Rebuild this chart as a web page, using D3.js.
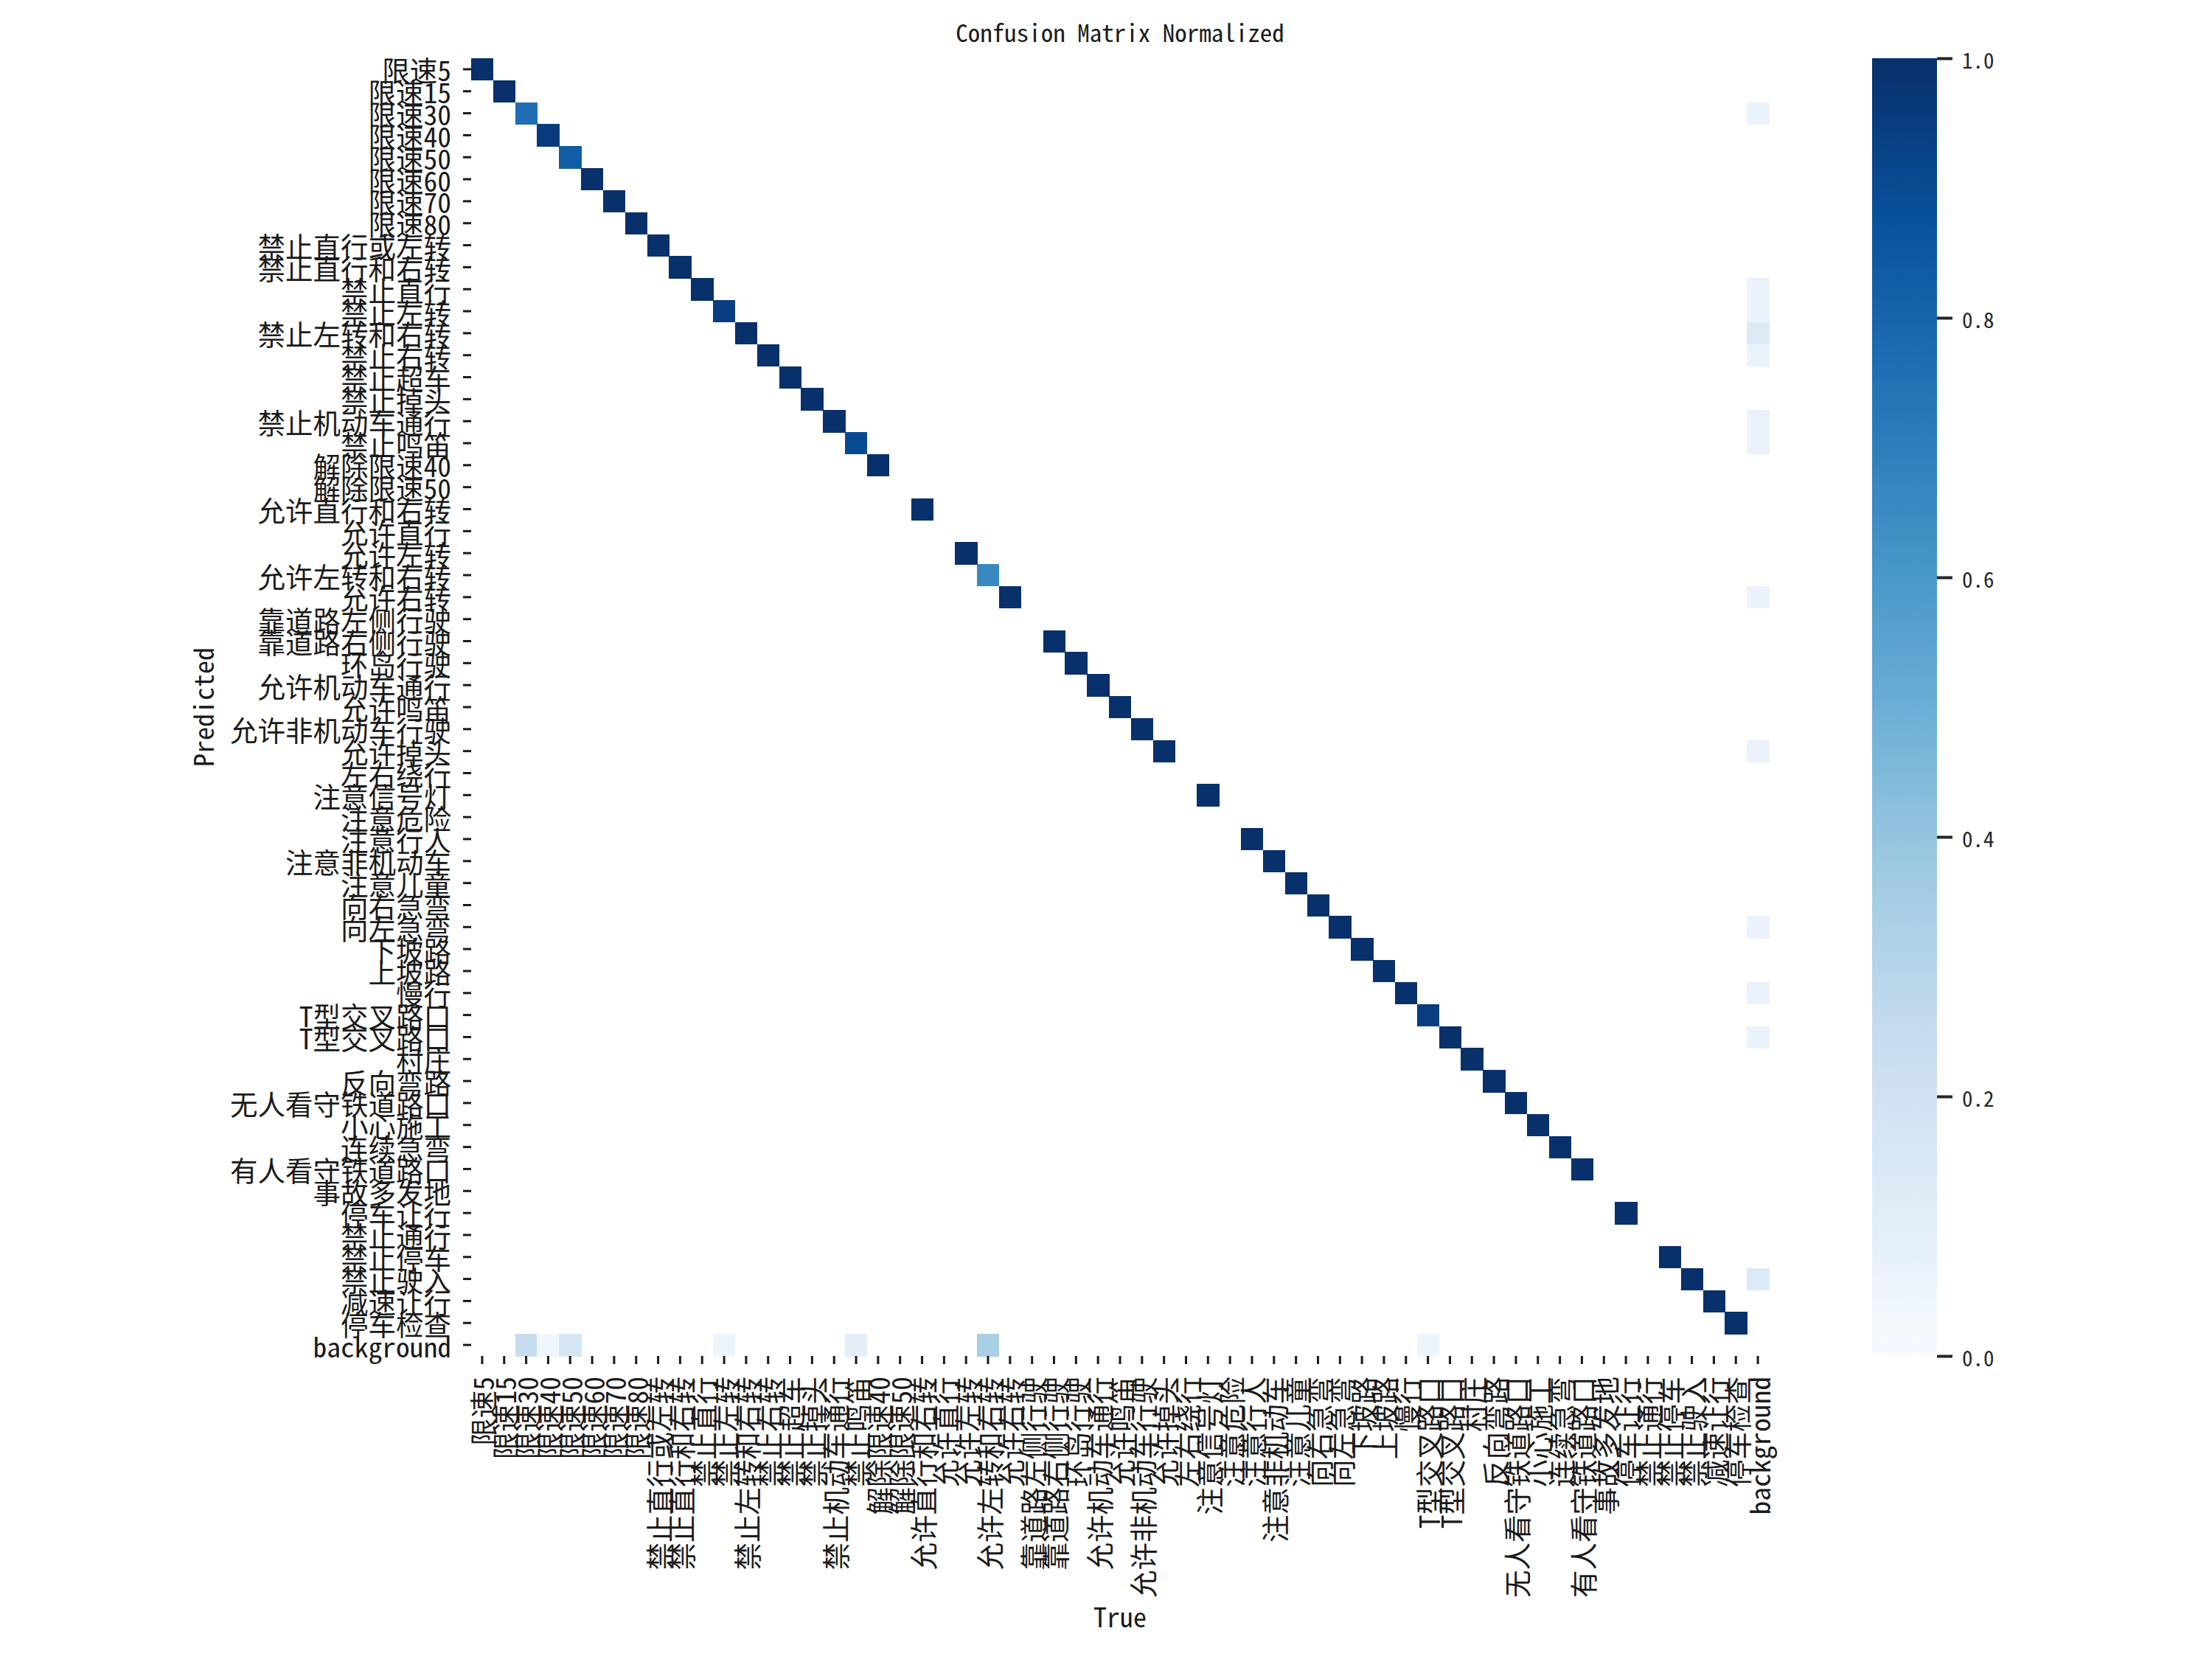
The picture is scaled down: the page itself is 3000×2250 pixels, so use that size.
<!DOCTYPE html>
<html>
<head>
<meta charset="utf-8">
<script src="https://cdnjs.cloudflare.com/ajax/libs/d3/7.8.5/d3.min.js"></script>
<style>
  html, body { margin: 0; padding: 0; background: #ffffff; }
  svg { display: block; }
</style>
</head>
<body>
<svg id="chart" width="3000" height="2250"></svg>
<script>
// ---------------- data ----------------
const classNames = [
  "限速5","限速15","限速30","限速40","限速50","限速60","限速70","限速80",
  "禁止直行或左转","禁止直行和右转","禁止直行","禁止左转","禁止左转和右转","禁止右转",
  "禁止超车","禁止掉头","禁止机动车通行","禁止鸣笛","解除限速40","解除限速50",
  "允许直行和右转","允许直行","允许左转","允许左转和右转","允许右转",
  "靠道路左侧行驶","靠道路右侧行驶","环岛行驶","允许机动车通行","允许鸣笛",
  "允许非机动车行驶","允许掉头","左右绕行","注意信号灯","注意危险","注意行人",
  "注意非机动车","注意儿童","向右急弯","向左急弯","下坡路","上坡路","慢行",
  "T型交叉路口","T型交叉路口","村庄","反向弯路","无人看守铁道路口","小心施工",
  "连续急弯","有人看守铁道路口","事故多发地","停车让行","禁止通行","禁止停车",
  "禁止驶入","减速让行","停车检查","background"
];

// diagonal (predicted == true) values for the 58 classes
const diagValues = [
  1.00, 1.00, 0.76, 0.96, 0.83, 1.00, 1.00, 1.00,
  1.00, 1.00, 1.00, 0.95, 1.00, 1.00,
  1.00, 1.00, 1.00, 0.90, 1.00, 0.00,
  1.00, 0.00, 1.00, 0.66, 1.00,
  0.00, 1.00, 1.00, 1.00, 1.00,
  1.00, 1.00, 0.00, 1.00, 0.00, 1.00,
  1.00, 1.00, 1.00, 1.00, 1.00, 1.00, 1.00,
  0.95, 1.00, 1.00, 1.00, 1.00, 1.00,
  1.00, 1.00, 0.00, 1.00, 0.00, 1.00,
  1.00, 1.00, 1.00
];

// last row: predicted "background" for each true class (missed objects)
const backgroundRow = [
  0, 0, 0.24, 0.04, 0.17, 0, 0, 0,
  0, 0, 0, 0.05, 0, 0,
  0, 0, 0, 0.10, 0, 0,
  0, 0, 0, 0.34, 0,
  0, 0, 0, 0, 0,
  0, 0, 0, 0, 0, 0,
  0, 0, 0, 0, 0, 0, 0,
  0.05, 0, 0, 0, 0, 0,
  0, 0, 0, 0, 0, 0,
  0, 0, 0, 0
];

// last column: true "background" for each predicted class (false positives)
const backgroundCol = [
  0, 0, 0.067, 0, 0, 0, 0, 0,
  0, 0, 0.067, 0.067, 0.133, 0.067,
  0, 0, 0.067, 0.067, 0, 0,
  0, 0, 0, 0, 0.067,
  0, 0, 0, 0, 0,
  0, 0.067, 0, 0, 0, 0,
  0, 0, 0, 0.067, 0, 0, 0.067,
  0, 0.067, 0, 0, 0, 0,
  0, 0, 0, 0, 0, 0,
  0.133, 0, 0, 0
];

const colorbarTicks = [0.0, 0.2, 0.4, 0.6, 0.8, 1.0];
const titleText = "Confusion Matrix Normalized";
const xLabelText = "True";
const yLabelText = "Predicted";

// ---------------- build cells ----------------
const nCls = classNames.length;
const cells = [];
diagValues.forEach((v, i) => { if (v >= 0.005) cells.push({ row: i, col: i, v }); });
backgroundRow.forEach((v, j) => { if (v >= 0.005) cells.push({ row: nCls - 1, col: j, v }); });
backgroundCol.forEach((v, i) => { if (v >= 0.005) cells.push({ row: i, col: nCls - 1, v }); });

// ---------------- layout ----------------
const FONT = '"Noto Sans Mono CJK SC", "Noto Sans CJK SC", "DejaVu Sans Mono", monospace';
const TEXT = "#1a1a1a";
const plotLeft = 639, plotTop = 79, plotSize = 1760;

const svg = d3.select("#chart");

const x = d3.scaleBand().domain(d3.range(nCls)).range([plotLeft, plotLeft + plotSize]);
const y = d3.scaleBand().domain(d3.range(nCls)).range([plotTop, plotTop + plotSize]);

// matplotlib "Blues" colormap (linear segments through the 9 ColorBrewer stops)
const bluesStops = ["#f7fbff","#deebf7","#c6dbef","#9ecae1","#6baed6","#4292c6","#2171b5","#08519c","#08306b"];
const color = d3.scaleLinear()
  .domain(bluesStops.map((_, i) => i / (bluesStops.length - 1)))
  .range(bluesStops)
  .interpolate(d3.interpolateRgb)
  .clamp(true);

// heatmap cells
svg.append("g")
  .selectAll("rect")
  .data(cells)
  .join("rect")
  .attr("x", d => x(d.col))
  .attr("y", d => y(d.row))
  .attr("width", x.bandwidth() + 0.5)
  .attr("height", y.bandwidth() + 0.5)
  .attr("fill", d => color(d.v))
  .attr("shape-rendering", "crispEdges");

// y axis
const yAxis = svg.append("g")
  .attr("transform", `translate(${plotLeft},0)`)
  .call(d3.axisLeft(y).tickSize(11).tickPadding(16).tickFormat(i => classNames[i]));
yAxis.select(".domain").remove();
yAxis.selectAll(".tick line").attr("stroke", TEXT).attr("stroke-width", 3);
yAxis.selectAll(".tick text")
  .attr("fill", TEXT)
  .attr("font-family", FONT)
  .attr("font-size", 37.5)
  .attr("dy", null)
  .attr("dominant-baseline", "central");

// x axis
const xAxis = svg.append("g")
  .attr("transform", `translate(0,${plotTop + plotSize})`)
  .call(d3.axisBottom(x).tickSize(11).tickPadding(17).tickFormat(i => classNames[i]));
xAxis.select(".domain").remove();
xAxis.selectAll(".tick line").attr("stroke", TEXT).attr("stroke-width", 3);
xAxis.selectAll(".tick text")
  .attr("fill", TEXT)
  .attr("font-family", FONT)
  .attr("font-size", 37.5)
  .attr("transform", "rotate(-90)")
  .attr("text-anchor", "end")
  .attr("x", -28)
  .attr("y", 0)
  .attr("dy", null)
  .attr("dominant-baseline", "central");

// title and axis labels
svg.append("text")
  .attr("x", plotLeft + plotSize / 2).attr("y", 57)
  .attr("text-anchor", "middle")
  .attr("font-family", FONT).attr("font-size", 33)
  .attr("fill", TEXT)
  .text(titleText);

svg.append("text")
  .attr("x", plotLeft + plotSize / 2).attr("y", 2207)
  .attr("text-anchor", "middle")
  .attr("font-family", FONT).attr("font-size", 36)
  .attr("fill", TEXT)
  .text(xLabelText);

svg.append("text")
  .attr("transform", `translate(290,${plotTop + plotSize / 2}) rotate(-90)`)
  .attr("text-anchor", "middle")
  .attr("font-family", FONT).attr("font-size", 36)
  .attr("fill", TEXT)
  .text(yLabelText);

// colorbar
const cbX = 2539, cbW = 88;
const cb = d3.scaleLinear().domain([0, 1]).range([plotTop + plotSize, plotTop]);
const defs = svg.append("defs");
const grad = defs.append("linearGradient")
  .attr("id", "bluesGrad")
  .attr("x1", 0).attr("y1", 1).attr("x2", 0).attr("y2", 0);
grad.selectAll("stop")
  .data(d3.range(0, 1.0001, 0.025))
  .join("stop")
  .attr("offset", d => d)
  .attr("stop-color", d => color(d));

svg.append("rect")
  .attr("x", cbX).attr("y", cb(1))
  .attr("width", cbW).attr("height", cb(0) - cb(1))
  .attr("fill", "url(#bluesGrad)");

const cbAxis = svg.append("g")
  .attr("transform", `translate(${cbX + cbW},0)`)
  .call(d3.axisRight(cb).tickValues(colorbarTicks).tickSize(21).tickPadding(13).tickFormat(d3.format(".1f")));
cbAxis.select(".domain").remove();
cbAxis.selectAll(".tick line").attr("stroke", "#262626").attr("stroke-width", 4);
cbAxis.selectAll(".tick text")
  .attr("fill", "#262626")
  .attr("font-family", FONT)
  .attr("font-size", 29)
  .attr("dy", null)
  .attr("dominant-baseline", "central");
</script>
</body>
</html>
